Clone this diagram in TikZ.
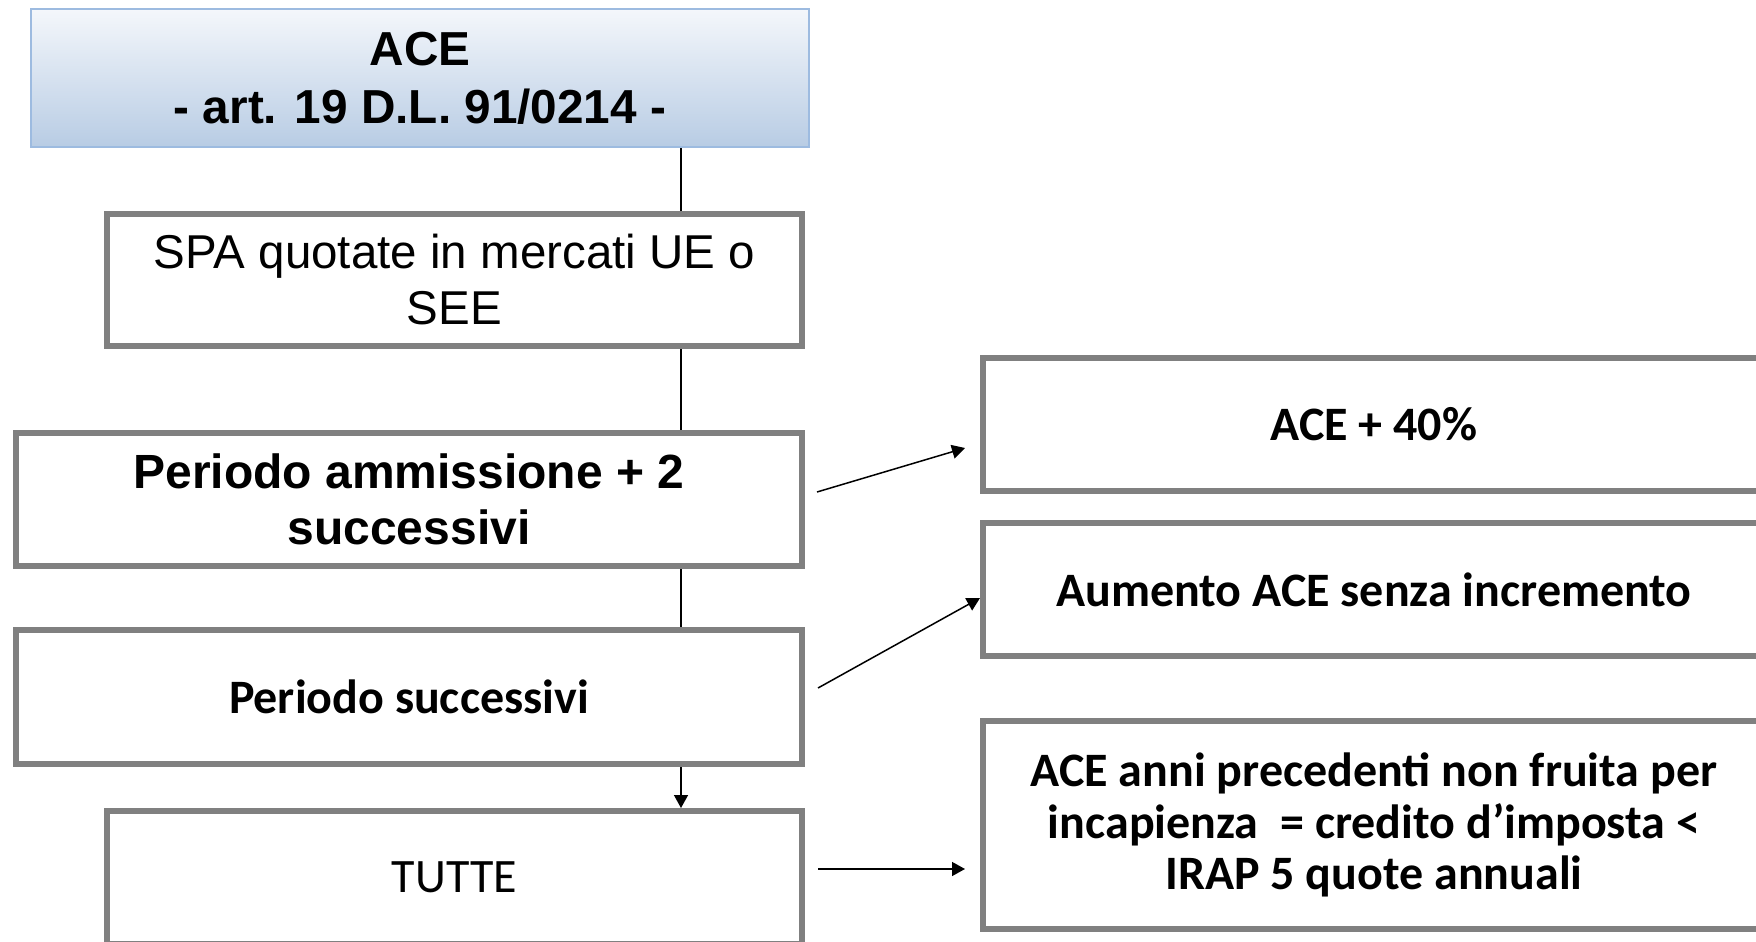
\documentclass[tikz,border=0pt]{standalone}
\usepackage{fontspec}
\setmainfont{Liberation Sans}
\newfontfamily\calfont{Carlito}
\usetikzlibrary{calc,arrows.meta}
\definecolor{boxgray}{HTML}{808080}
\definecolor{topline}{HTML}{9DBBE0}
\definecolor{toptop}{HTML}{F4F7FB}
\definecolor{topbot}{HTML}{B8CCE4}
\begin{document}
\begin{tikzpicture}[x=1pt,y=-1pt,
  gbox/.style={draw=boxgray, line width=6pt, fill=white, outer sep=3pt, inner sep=0pt, align=center},
  arialtxt/.style={font=\fontsize{47.5}{56}\selectfont},
  arialbold/.style={font=\fontsize{48}{56}\selectfont\bfseries},
  caltxt/.style={font=\calfont\fontsize{48}{51.5}\selectfont},
  calbold/.style={font=\calfont\fontsize{48}{51.5}\selectfont\bfseries},
  conn/.style={line width=1.5pt, draw=black},
  arr/.style={conn, -{Triangle[length=13pt,width=14pt]}}]
\useasboundingbox (0,0) rectangle (1756,942);
\clip (0,0) rectangle (1756,942);

% left column
\node[draw=topline, line width=2pt, top color=toptop, bottom color=topbot,
      outer sep=1pt, inner sep=0pt, align=center,
      minimum width=778pt, minimum height=138pt,
      font=\fontsize{47.7}{58}\selectfont\bfseries] (top) at (420,78)
      {ACE\\- art. 19 D.L. 91/0214 -};
\node[gbox, arialtxt, minimum width=695pt, minimum height=132pt] (spa) at (454.5,280)
      {SPA quotate in mercati UE o\\SEE};
\node[gbox, arialbold, minimum width=786pt, minimum height=133pt] (pam) at (409,499.5)
      {Periodo ammissione + 2\\successivi};
\node[gbox, calbold, minimum width=786pt, minimum height=134pt] (ps) at (409,697)
      {Periodo successivi};
\node[gbox, caltxt, minimum width=695pt, minimum height=133pt] (tutte) at (454.5,877.5)
      {TUTTE};

% right column
\node[gbox, calbold, minimum width=782pt, minimum height=133pt] (r1) at (1374,424.5)
      {ACE + 40\%};
\node[gbox, calbold, minimum width=782pt, minimum height=133pt] (r2) at (1374,589.5)
      {Aumento ACE senza incremento};
\node[gbox, calbold, minimum width=782pt, minimum height=208pt] (r3) at (1374,825)
      {ACE anni precedenti non fruita per\\incapienza~ = credito d’imposta <\\IRAP 5 quote annuali};

% vertical spine
\coordinate (spine) at (681,0);
\draw[conn] (top.south -| spine) -- (spa.north -| spine);
\draw[conn] (spa.south -| spine) -- (pam.north -| spine);
\draw[conn] (pam.south -| spine) -- (ps.north -| spine);
\draw[arr] (ps.south -| spine) -- (tutte.north -| spine);

% arrows to the right
\draw[arr] ($(pam.east)+(12,-7.5)$) -- ($(r1.west)+(-15,23.5)$);
\draw[arr] ($(ps.east)+(13,-9)$) -- ($(r2.west)+(0,8.5)$);
\draw[arr] ($(tutte.east)+(13,-8.5)$) -- ($(r3.west)+(-15,44)$);
\end{tikzpicture}
\end{document}
